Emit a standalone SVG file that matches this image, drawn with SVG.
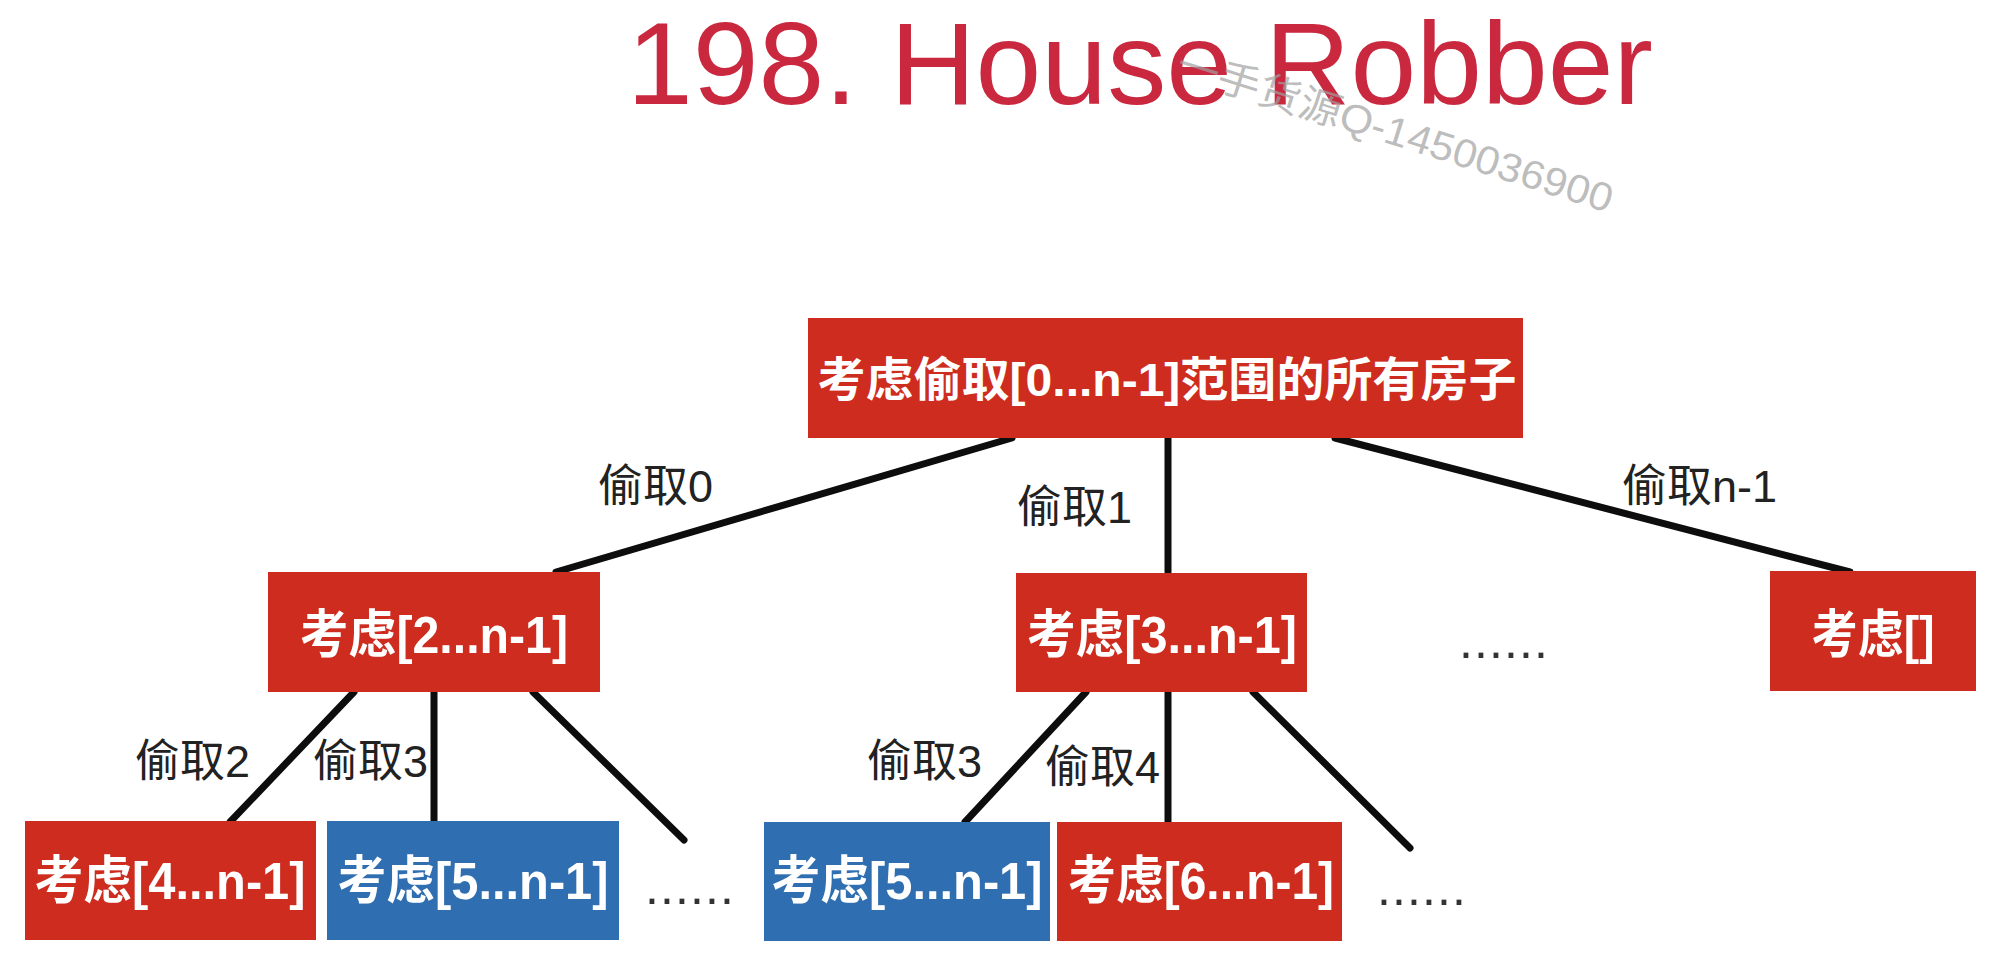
<svg xmlns="http://www.w3.org/2000/svg" width="1990" height="958" viewBox="0 0 1990 958">
<style>
.title{font-family:"Liberation Sans","Noto Sans CJK SC",sans-serif;font-size:116px;fill:#c9283f}
.wm{font-family:"Liberation Sans","Noto Sans CJK SC",sans-serif;font-size:40px;fill:#a0a0a0;fill-opacity:0.7}
.red{fill:#cd2c1f}
.blue{fill:#2f6eb0}
.bt{font-family:"Liberation Sans","Noto Sans CJK SC",sans-serif;font-weight:bold;fill:#ffffff;text-anchor:middle}
.lbl{font-family:"Liberation Sans","Noto Sans CJK SC",sans-serif;font-size:45px;fill:#222222}
.dots{font-family:"Liberation Sans",sans-serif;font-size:50px;fill:#333333}
.edge{stroke:#0d0d0d;stroke-width:7;stroke-linecap:round;fill:none}
</style>
<rect width="1990" height="958" fill="#ffffff"/>
<text class="title" x="627" y="104" textLength="1026" lengthAdjust="spacingAndGlyphs">198. House Robber</text>
<text class="wm" x="1174" y="76" transform="rotate(17.5 1174 76)" textLength="455" lengthAdjust="spacingAndGlyphs">一手货源Q-1450036900</text>
<g id="connectors">
<line class="edge" x1="1012" y1="438" x2="556" y2="572"/>
<line class="edge" x1="1168" y1="438" x2="1168" y2="572"/>
<line class="edge" x1="1335" y1="438" x2="1850" y2="572"/>
<line class="edge" x1="354" y1="692" x2="230" y2="822"/>
<line class="edge" x1="434" y1="692" x2="434" y2="822"/>
<line class="edge" x1="533" y1="692" x2="684" y2="840"/>
<line class="edge" x1="1086" y1="692" x2="965" y2="822"/>
<line class="edge" x1="1168" y1="692" x2="1168" y2="822"/>
<line class="edge" x1="1253" y1="692" x2="1410" y2="848"/>
</g>
<g id="root">
<rect class="red" x="808" y="318" width="715" height="120"/>
<text class="bt" x="1167" y="396" font-size="47" textLength="699" lengthAdjust="spacingAndGlyphs">考虑偷取[0...n-1]范围的所有房子</text>
</g>
<g id="n2">
<rect class="red" x="268" y="572" width="332" height="120"/>
<text class="bt" x="434" y="653" font-size="52" textLength="268" lengthAdjust="spacingAndGlyphs">考虑[2...n-1]</text>
</g>
<g id="n3">
<rect class="red" x="1016" y="573" width="291" height="119"/>
<text class="bt" x="1162" y="653" font-size="52" textLength="270" lengthAdjust="spacingAndGlyphs">考虑[3...n-1]</text>
</g>
<g id="nEmpty">
<rect class="red" x="1770" y="571" width="206" height="120"/>
<text class="bt" x="1873" y="653" font-size="52" textLength="123" lengthAdjust="spacingAndGlyphs">考虑[]</text>
</g>
<g id="n4">
<rect class="red" x="25" y="821" width="291" height="119"/>
<text class="bt" x="170" y="899" font-size="52" textLength="271" lengthAdjust="spacingAndGlyphs">考虑[4...n-1]</text>
</g>
<g id="n5a">
<rect class="blue" x="327" y="821" width="292" height="119"/>
<text class="bt" x="473" y="899" font-size="52" textLength="271" lengthAdjust="spacingAndGlyphs">考虑[5...n-1]</text>
</g>
<g id="n5b">
<rect class="blue" x="764" y="822" width="286" height="119"/>
<text class="bt" x="907" y="899" font-size="52" textLength="271" lengthAdjust="spacingAndGlyphs">考虑[5...n-1]</text>
</g>
<g id="n6">
<rect class="red" x="1057" y="822" width="285" height="119"/>
<text class="bt" x="1201" y="899" font-size="52" textLength="266" lengthAdjust="spacingAndGlyphs">考虑[6...n-1]</text>
</g>
<g id="labels">
<text class="lbl" x="598" y="502">偷取0</text>
<text class="lbl" x="1017" y="523">偷取1</text>
<text class="lbl" x="1622" y="502">偷取n-1</text>
<text class="lbl" x="135" y="777">偷取2</text>
<text class="lbl" x="313" y="777">偷取3</text>
<text class="lbl" x="867" y="777">偷取3</text>
<text class="lbl" x="1045" y="783">偷取4</text>
</g>
<g id="ellipses">
<text class="dots" x="1459" y="658" textLength="89" lengthAdjust="spacing">......</text>
<text class="dots" x="645" y="904" textLength="89" lengthAdjust="spacing">......</text>
<text class="dots" x="1377" y="905" textLength="89" lengthAdjust="spacing">......</text>
</g>
</svg>
